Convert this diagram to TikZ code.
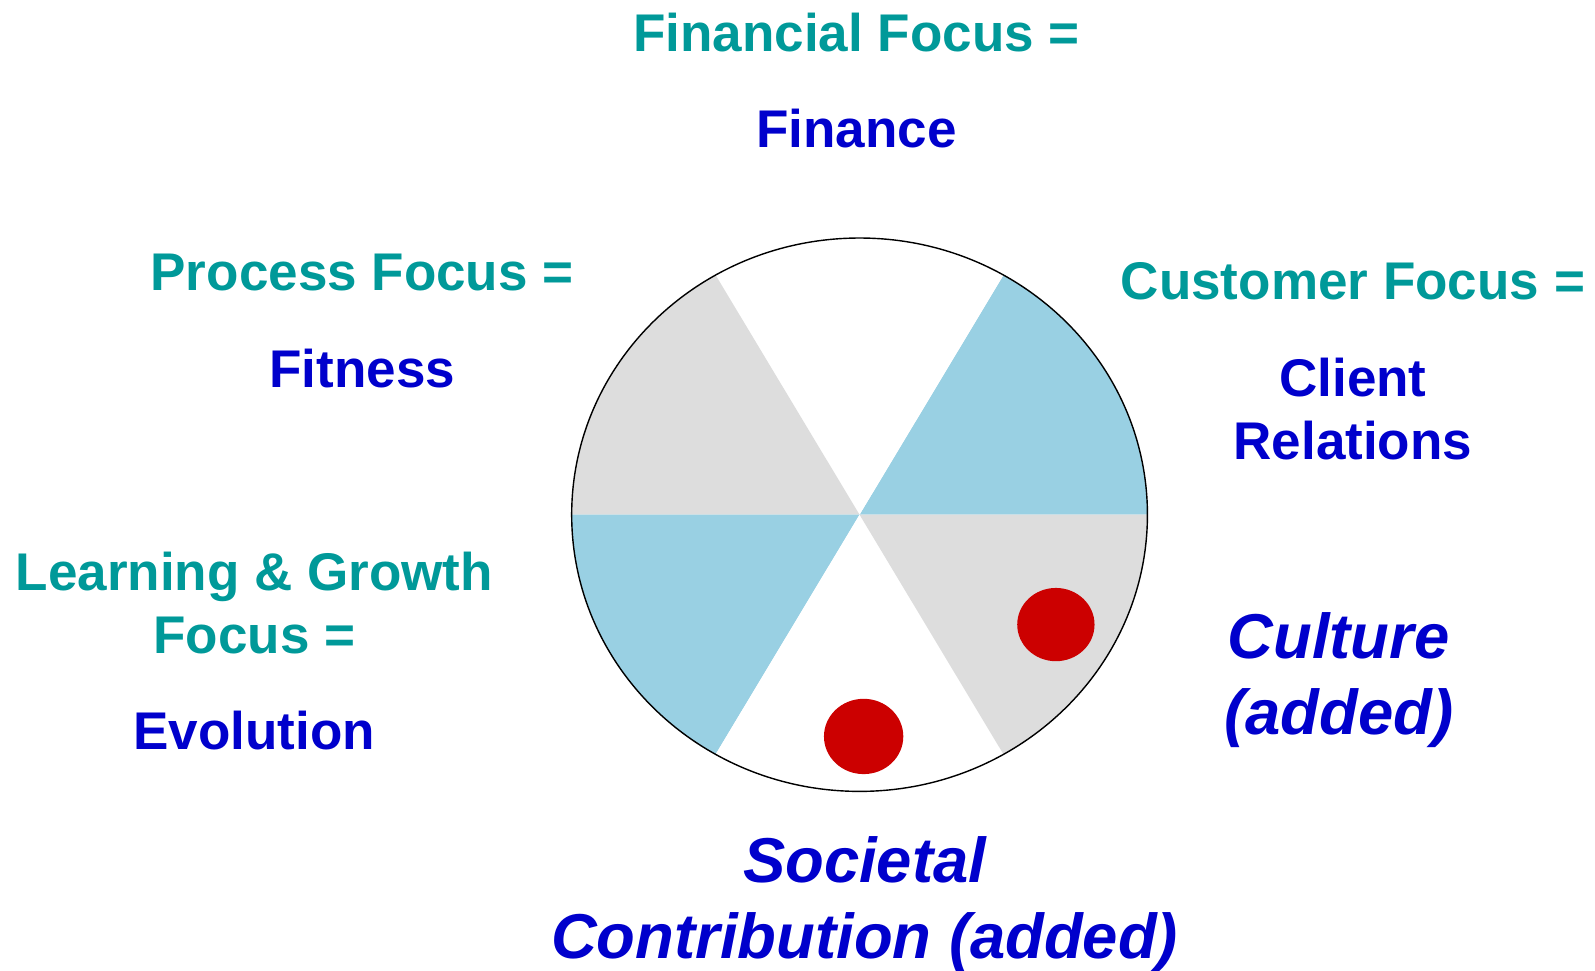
\documentclass[tikz,border=0pt]{standalone}
\usepackage{fontspec}
\setmainfont{Liberation Sans}
\usetikzlibrary{calc}
\definecolor{focus}{RGB}{0,153,153}
\definecolor{name}{RGB}{0,0,204}
\definecolor{sky}{RGB}{153,208,227}
\definecolor{pale}{RGB}{221,221,221}
\definecolor{dot}{RGB}{204,0,0}
\tikzset{
  lbl/.style={align=center,inner sep=0pt,font=\fontsize{30.2}{35.9}\selectfont\bfseries},
  added/.style={align=center,inner sep=0pt,text=name,font=\fontsize{36.1}{43.2}\selectfont\bfseries\itshape}
}
\begin{document}
\begin{tikzpicture}[x=0.02035cm,y=0.02035cm]
      \useasboundingbox(0,0)rectangle(1568,954.5);
      \begin{scope}
        \coordinate(O)at(845,448.5);
        \foreach \a/\c in {0/sky,60/white,120/pale,180/sky,240/white,300/pale}
          \fill[\c](O)--($(O)+(\a:283 and 272)$)arc[start angle=\a,end angle=\a+60,x radius=283,y radius=272]--cycle;
        \draw[line width=0.8pt](O)ellipse[x radius=283,y radius=272];
        \fill[dot](1038,340.5)ellipse[x radius=38,y radius=36];
        \fill[dot](849,230.5)ellipse[x radius=39,y radius=37];
      \end{scope}
      \node[lbl,text=focus](fin1)at(842,922.5){Financial Focus =};
      \node[lbl,text=name](fin2)at(842,828.5){Finance};
      \node[lbl,text=focus](pro1)at(356,686.5){Process Focus =};
      \node[lbl,text=name](pro2)at(356,592.5){Fitness};
      \node[lbl,text=focus](cus1)at(1330,678.5){Customer Focus =};
      \node[lbl,text=name](cus2)at(1330,552.5){Client\\Relations};
      \node[lbl,text=focus](lea1)at(250,361.5){Learning \& Growth\\Focus =};
      \node[lbl,text=name](lea2)at(250,236.5){Evolution};
      \node[added](cul)at(1316,285.5){Culture\\(added)};
      \node[added](soc)at(850,65.5){Societal\\Contribution (added)};
    \end{tikzpicture}
\end{document}
